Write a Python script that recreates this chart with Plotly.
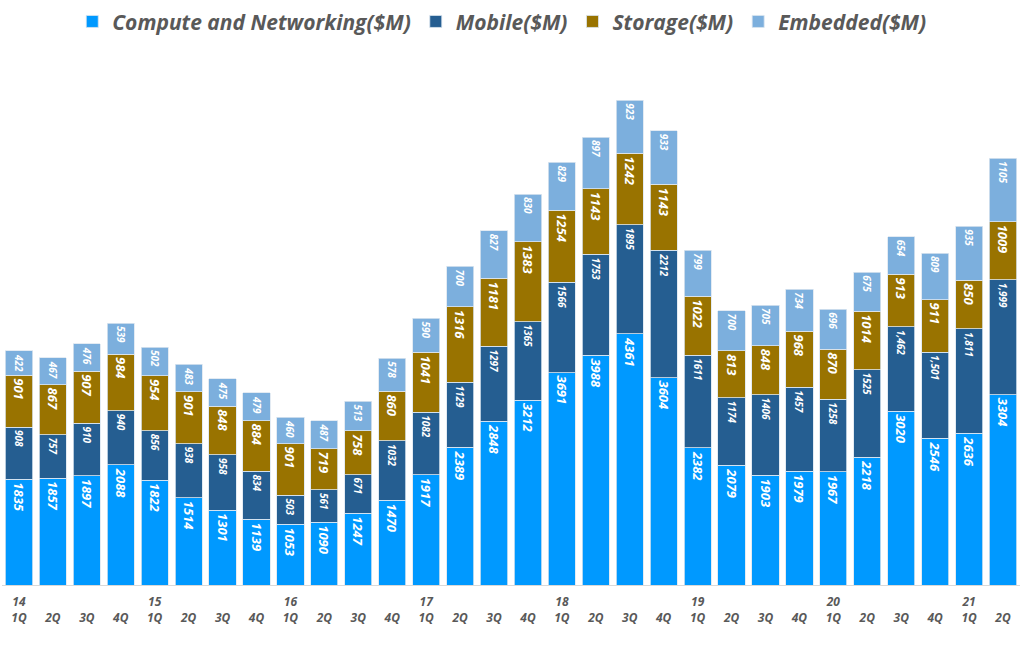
import plotly.graph_objects as go

years = ["14", "15", "16", "17", "18", "19", "20", "21"]
quarters = ["1Q", "2Q", "3Q", "4Q"]
periods = [f"{y}-{q}" for y in years for q in quarters][:30]

compute = [1835, 1857, 1897, 2088, 1822, 1514, 1301, 1139, 1053, 1090, 1247, 1470,
           1917, 2389, 2848, 3212, 3691, 3988, 4361, 3604, 2382, 2079, 1903, 1979,
           1967, 2218, 3020, 2546, 2636, 3304]
mobile = [908, 757, 910, 940, 856, 938, 958, 834, 503, 561, 671, 1032,
          1082, 1129, 1297, 1365, 1566, 1753, 1895, 2212, 1611, 1174, 1406, 1457,
          1258, 1525, 1462, 1501, 1811, 1999]
storage = [901, 867, 907, 984, 954, 901, 848, 884, 901, 719, 758, 860,
           1041, 1316, 1181, 1383, 1254, 1143, 1242, 1143, 1022, 813, 848, 968,
           870, 1014, 913, 911, 850, 1009]
embedded = [422, 467, 476, 539, 502, 483, 475, 479, 460, 487, 513, 578,
            590, 700, 827, 830, 829, 897, 923, 933, 799, 700, 705, 734,
            696, 675, 654, 809, 935, 1105]

# labels with thousands separators as in the reference (last four mobile values)
mobile_text = [f"{v:,}" if i >= 26 else str(v) for i, v in enumerate(mobile)]

tick_text = []
for p in periods:
    y, q = p.split("-")
    tick_text.append(f"{y}<br>{q}" if q == "1Q" else f" <br>{q}")

series = [
    ("Compute and Networking($M)", compute, [str(v) for v in compute], "#0099FF", 13),
    ("Mobile($M)", mobile, mobile_text, "#255E91", 10),
    ("Storage($M)", storage, [str(v) for v in storage], "#997300", 13),
    ("Embedded($M)", embedded, [str(v) for v in embedded], "#7CAFDD", 10),
]

fig = go.Figure()
for name, vals, txt, color, fs in series:
    fig.add_trace(go.Bar(
        x=periods, y=vals, name=name, text=txt,
        textposition="inside", insidetextanchor="end", textangle=90,
        constraintext="none",
        insidetextfont=dict(color="white", size=fs, family="Open Sans", style="italic", weight="bold"),
        marker=dict(color=color, line=dict(color="#DCE6F0", width=0.8)),
        hoverinfo="x+y+name",
    ))

fig.update_layout(
    barmode="stack",
    bargap=0.2,
    width=1024, height=645,
    margin=dict(l=2, r=4, t=45, b=60),
    paper_bgcolor="white", plot_bgcolor="white",
    legend=dict(orientation="h", x=0.49, xanchor="center", xref="container",
                y=0.998, yanchor="top", yref="container",
                font=dict(size=21, color="#595959", family="Open Sans", style="italic", weight="bold"),
                itemwidth=30, traceorder="normal"),
    xaxis=dict(tickmode="array", tickvals=periods, ticktext=tick_text,
               tickfont=dict(size=12, color="#595959", family="Open Sans", style="italic", weight="bold"),
               showline=True, linecolor="#D9D9D9", linewidth=1, ticks="",
               ticklabelstandoff=6),
    yaxis=dict(range=[0, 9380], visible=False, showgrid=False),
    showlegend=True,
)

fig.write_html("out.html", config={"displayModeBar": False},
               post_script="document.body.style.margin='0';")
